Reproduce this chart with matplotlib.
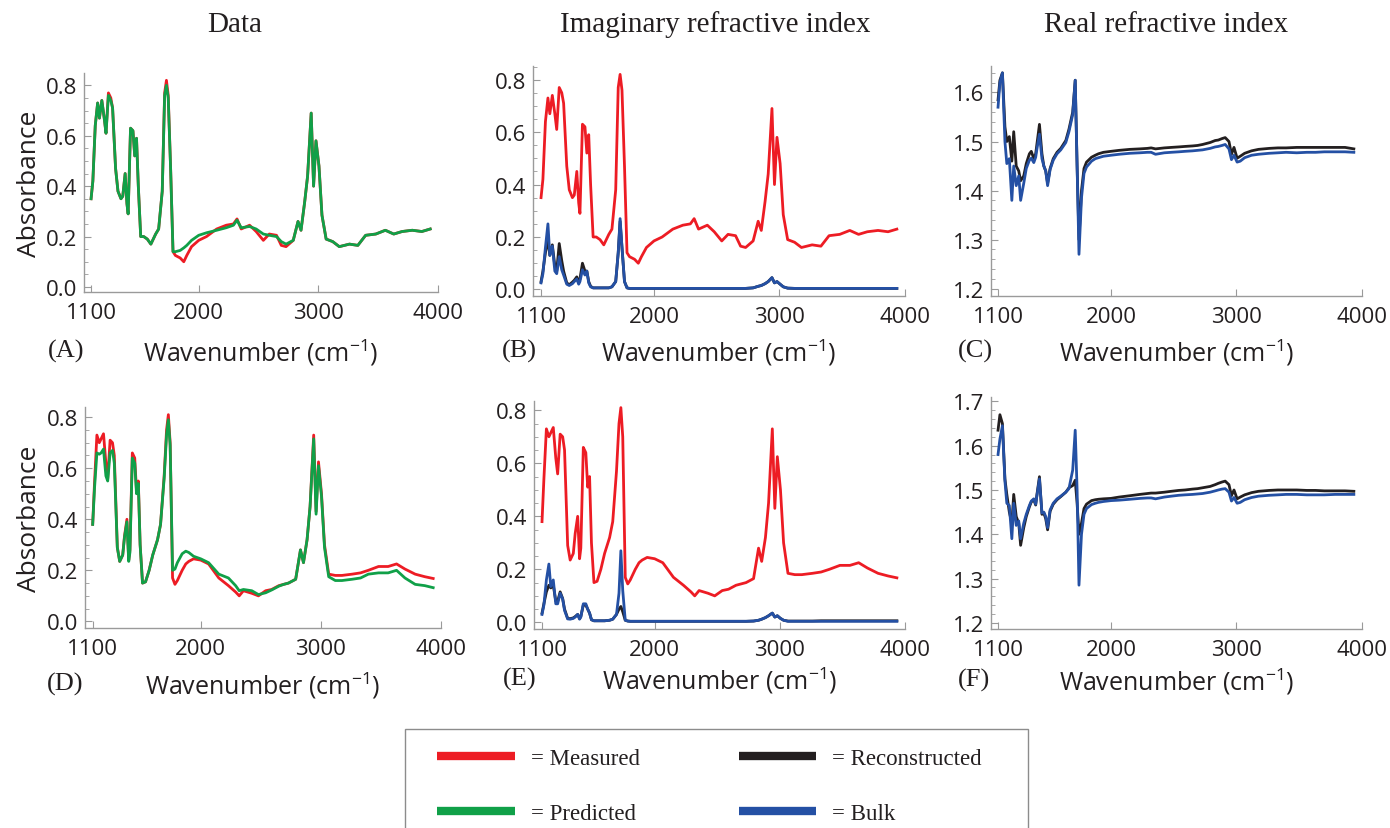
import matplotlib
matplotlib.use("Agg")
import matplotlib.pyplot as plt
from matplotlib.lines import Line2D
from matplotlib.patches import Rectangle
from matplotlib.ticker import FixedLocator, MultipleLocator, FormatStrFormatter

# shared wavenumber grid (cm^-1)
wn = [1100, 1115, 1135, 1155, 1170, 1190, 1210, 1225, 1245, 1265,
      1280, 1305, 1325, 1350, 1365, 1385, 1400, 1410, 1430, 1450,
      1465, 1480, 1495, 1515, 1540, 1570, 1600, 1640, 1665, 1695,
      1715, 1730, 1745, 1765, 1785, 1805, 1845, 1875, 1900, 1940,
      2000, 2065, 2150, 2230, 2290, 2320, 2355, 2425, 2480, 2540,
      2590, 2650, 2690, 2730, 2790, 2830, 2855, 2885, 2910, 2940,
      2960, 2980, 3005, 3030, 3065, 3120, 3175, 3260, 3330, 3395,
      3480, 3560, 3630, 3700, 3785, 3865, 3935]

# top row: absorbance
measured_top = [0.35, 0.42, 0.64, 0.73, 0.67, 0.74, 0.67, 0.61, 0.77, 0.75,
                0.71, 0.47, 0.38, 0.35, 0.36, 0.45, 0.33, 0.29, 0.63, 0.62,
                0.52, 0.59, 0.40, 0.20, 0.20, 0.19, 0.17, 0.21, 0.23, 0.38,
                0.77, 0.82, 0.76, 0.47, 0.14, 0.125, 0.115, 0.10, 0.125, 0.16,
                0.185, 0.20, 0.23, 0.245, 0.25, 0.27, 0.23, 0.245, 0.22, 0.185,
                0.21, 0.205, 0.165, 0.16, 0.185, 0.26, 0.225, 0.335, 0.44, 0.69,
                0.40, 0.58, 0.48, 0.285, 0.19, 0.18, 0.16, 0.17, 0.165, 0.205,
                0.21, 0.225, 0.21, 0.22, 0.225, 0.22, 0.23]
predicted_top = [0.35, 0.42, 0.64, 0.73, 0.67, 0.74, 0.67, 0.61, 0.76, 0.74,
                 0.71, 0.47, 0.38, 0.35, 0.36, 0.45, 0.33, 0.29, 0.63, 0.62,
                 0.52, 0.59, 0.40, 0.20, 0.20, 0.19, 0.17, 0.21, 0.23, 0.38,
                 0.76, 0.80, 0.75, 0.47, 0.14, 0.14, 0.145, 0.155, 0.165, 0.185,
                 0.205, 0.215, 0.225, 0.235, 0.245, 0.265, 0.235, 0.24, 0.23, 0.21,
                 0.205, 0.20, 0.18, 0.17, 0.185, 0.26, 0.225, 0.335, 0.44, 0.69,
                 0.40, 0.58, 0.48, 0.285, 0.19, 0.18, 0.16, 0.17, 0.165, 0.205,
                 0.21, 0.225, 0.21, 0.22, 0.225, 0.22, 0.23]
# top row: imaginary index
recon_k_top = [0.03, 0.07, 0.14, 0.19, 0.13, 0.17, 0.09, 0.07, 0.175, 0.11,
               0.07, 0.025, 0.018, 0.028, 0.035, 0.048, 0.025, 0.04, 0.10, 0.07,
               0.07, 0.03, 0.012, 0.006, 0.006, 0.006, 0.006, 0.006, 0.01, 0.03,
               0.14, 0.26, 0.16, 0.03, 0.006, 0.004, 0.004, 0.004, 0.004, 0.004,
               0.004, 0.004, 0.004, 0.004, 0.004, 0.004, 0.004, 0.004, 0.004, 0.004,
               0.004, 0.004, 0.004, 0.004, 0.006, 0.012, 0.015, 0.022, 0.03, 0.045,
               0.025, 0.03, 0.02, 0.01, 0.005, 0.004, 0.004, 0.004, 0.004, 0.004,
               0.004, 0.004, 0.004, 0.004, 0.004, 0.004, 0.004]
bulk_k_top = [0.025, 0.06, 0.16, 0.25, 0.13, 0.165, 0.07, 0.06, 0.125, 0.075,
              0.055, 0.02, 0.015, 0.022, 0.03, 0.04, 0.02, 0.03, 0.075, 0.055,
              0.07, 0.025, 0.01, 0.006, 0.006, 0.006, 0.006, 0.006, 0.01, 0.03,
              0.14, 0.27, 0.16, 0.03, 0.006, 0.004, 0.004, 0.004, 0.004, 0.004,
              0.004, 0.004, 0.004, 0.004, 0.004, 0.004, 0.004, 0.004, 0.004, 0.004,
              0.004, 0.004, 0.004, 0.004, 0.006, 0.012, 0.015, 0.022, 0.03, 0.045,
              0.025, 0.03, 0.02, 0.01, 0.005, 0.004, 0.004, 0.004, 0.004, 0.004,
              0.004, 0.004, 0.004, 0.004, 0.004, 0.004, 0.004]
# top row: real index
recon_n_top = [1.585, 1.625, 1.64, 1.53, 1.50, 1.51, 1.46, 1.52, 1.45, 1.44,
               1.42, 1.43, 1.455, 1.475, 1.48, 1.465, 1.475, 1.495, 1.535, 1.475,
               1.45, 1.44, 1.415, 1.445, 1.465, 1.478, 1.486, 1.502, 1.525, 1.56,
               1.625, 1.45, 1.30, 1.40, 1.445, 1.458, 1.468, 1.472, 1.475, 1.478,
               1.48, 1.482, 1.484, 1.485, 1.486, 1.487, 1.485, 1.487, 1.488, 1.489,
               1.490, 1.491, 1.492, 1.494, 1.498, 1.502, 1.503, 1.506, 1.508, 1.500,
               1.474, 1.488, 1.466, 1.470, 1.476, 1.481, 1.484, 1.486, 1.487, 1.487,
               1.488, 1.488, 1.488, 1.488, 1.488, 1.488, 1.485]
bulk_n_top = [1.57, 1.62, 1.64, 1.50, 1.455, 1.465, 1.38, 1.45, 1.41, 1.43,
              1.38, 1.415, 1.445, 1.462, 1.466, 1.457, 1.468, 1.485, 1.515, 1.465,
              1.45, 1.44, 1.41, 1.443, 1.462, 1.475, 1.483, 1.498, 1.52, 1.555,
              1.625, 1.45, 1.27, 1.385, 1.435, 1.448, 1.46, 1.465, 1.467, 1.47,
              1.472, 1.474, 1.476, 1.477, 1.478, 1.478, 1.474, 1.477, 1.478, 1.479,
              1.480, 1.481, 1.482, 1.483, 1.486, 1.489, 1.490, 1.492, 1.494, 1.485,
              1.463, 1.472, 1.458, 1.460, 1.467, 1.472, 1.474, 1.476, 1.477, 1.478,
              1.477, 1.478, 1.478, 1.479, 1.479, 1.479, 1.478]

# bottom row: absorbance
measured_bot = [0.38, 0.54, 0.73, 0.70, 0.715, 0.735, 0.62, 0.56, 0.71, 0.70,
                0.65, 0.29, 0.235, 0.26, 0.335, 0.40, 0.24, 0.28, 0.66, 0.64,
                0.51, 0.55, 0.30, 0.15, 0.155, 0.20, 0.26, 0.32, 0.38, 0.57,
                0.75, 0.81, 0.70, 0.17, 0.145, 0.16, 0.20, 0.225, 0.235, 0.245,
                0.24, 0.225, 0.17, 0.14, 0.115, 0.10, 0.12, 0.11, 0.10, 0.12,
                0.125, 0.14, 0.145, 0.15, 0.165, 0.28, 0.23, 0.32, 0.45, 0.73,
                0.43, 0.625, 0.50, 0.30, 0.185, 0.18, 0.18, 0.185, 0.19, 0.20,
                0.215, 0.215, 0.225, 0.205, 0.185, 0.175, 0.168]
predicted_bot = [0.38, 0.52, 0.66, 0.655, 0.66, 0.675, 0.57, 0.55, 0.66, 0.67,
                 0.62, 0.29, 0.235, 0.26, 0.33, 0.39, 0.235, 0.27, 0.64, 0.62,
                 0.50, 0.54, 0.30, 0.15, 0.155, 0.20, 0.26, 0.32, 0.38, 0.56,
                 0.73, 0.79, 0.69, 0.20, 0.205, 0.23, 0.265, 0.275, 0.27, 0.255,
                 0.245, 0.23, 0.185, 0.17, 0.14, 0.12, 0.125, 0.12, 0.105, 0.112,
                 0.123, 0.138, 0.145, 0.15, 0.165, 0.28, 0.23, 0.32, 0.45, 0.715,
                 0.42, 0.61, 0.49, 0.29, 0.175, 0.16, 0.16, 0.165, 0.17, 0.185,
                 0.19, 0.19, 0.20, 0.17, 0.145, 0.14, 0.132]
# bottom row: imaginary index
recon_k_bot = [0.035, 0.07, 0.115, 0.14, 0.13, 0.14, 0.08, 0.08, 0.115, 0.09,
               0.05, 0.015, 0.014, 0.017, 0.022, 0.03, 0.014, 0.022, 0.065, 0.065,
               0.05, 0.035, 0.01, 0.006, 0.006, 0.006, 0.006, 0.008, 0.012, 0.03,
               0.05, 0.06, 0.04, 0.008, 0.005, 0.004, 0.004, 0.004, 0.004, 0.004,
               0.004, 0.004, 0.004, 0.004, 0.004, 0.004, 0.004, 0.004, 0.004, 0.004,
               0.004, 0.004, 0.004, 0.004, 0.005, 0.008, 0.012, 0.018, 0.025, 0.035,
               0.02, 0.025, 0.015, 0.008, 0.005, 0.005, 0.005, 0.005, 0.006, 0.006,
               0.006, 0.006, 0.006, 0.006, 0.006, 0.006, 0.006]
bulk_k_bot = [0.03, 0.065, 0.16, 0.22, 0.135, 0.16, 0.07, 0.07, 0.11, 0.088,
              0.045, 0.013, 0.012, 0.015, 0.02, 0.03, 0.012, 0.02, 0.07, 0.07,
              0.05, 0.035, 0.01, 0.006, 0.006, 0.006, 0.006, 0.008, 0.012, 0.03,
              0.11, 0.27, 0.12, 0.008, 0.005, 0.004, 0.004, 0.004, 0.004, 0.004,
              0.004, 0.004, 0.004, 0.004, 0.004, 0.004, 0.004, 0.004, 0.004, 0.004,
              0.004, 0.004, 0.004, 0.004, 0.005, 0.008, 0.012, 0.018, 0.025, 0.035,
              0.02, 0.025, 0.015, 0.008, 0.004, 0.004, 0.004, 0.004, 0.004, 0.004,
              0.004, 0.004, 0.004, 0.004, 0.004, 0.004, 0.004]
# bottom row: real index
recon_n_bot = [1.635, 1.67, 1.65, 1.525, 1.49, 1.45, 1.425, 1.49, 1.44, 1.425,
               1.375, 1.415, 1.44, 1.462, 1.473, 1.478, 1.466, 1.49, 1.53, 1.445,
               1.448, 1.435, 1.41, 1.452, 1.468, 1.478, 1.485, 1.495, 1.505, 1.51,
               1.522, 1.47, 1.40, 1.425, 1.458, 1.468, 1.476, 1.478, 1.479, 1.48,
               1.481, 1.484, 1.487, 1.49, 1.492, 1.493, 1.493, 1.495, 1.497, 1.499,
               1.500, 1.502, 1.503, 1.505, 1.508, 1.512, 1.515, 1.518, 1.52, 1.512,
               1.487, 1.500, 1.48, 1.484, 1.489, 1.494, 1.497, 1.499, 1.5, 1.5,
               1.5, 1.499, 1.499, 1.498, 1.498, 1.498, 1.497]
bulk_n_bot = [1.58, 1.615, 1.645, 1.52, 1.47, 1.465, 1.39, 1.47, 1.42, 1.43,
              1.39, 1.425, 1.445, 1.465, 1.475, 1.48, 1.468, 1.487, 1.525, 1.448,
              1.45, 1.44, 1.415, 1.455, 1.47, 1.48, 1.486, 1.495, 1.503, 1.545,
              1.635, 1.50, 1.285, 1.40, 1.445, 1.458, 1.467, 1.47, 1.472, 1.474,
              1.476, 1.477, 1.479, 1.481, 1.482, 1.482, 1.480, 1.484, 1.486, 1.488,
              1.489, 1.490, 1.491, 1.492, 1.495, 1.498, 1.500, 1.502, 1.503, 1.495,
              1.475, 1.483, 1.47, 1.472, 1.478, 1.483, 1.486, 1.488, 1.489, 1.49,
              1.49, 1.489, 1.489, 1.489, 1.49, 1.49, 1.49]

xticks = [1100, 2000, 3000, 4000]
titles = ['Data', 'Imaginary refractive index', 'Real refractive index']
legend_labels = ['= Measured', '= Predicted', '= Reconstructed', '= Bulk']

RED, GREEN, BLACK, BLUE = '#ed1c24', '#10a048', '#231f20', '#2450a4'
AXC = '#9a9a9a'
TXT = '#231f20'

plt.rcParams['font.family'] = ['Open Sans', 'DejaVu Sans']
plt.rcParams['mathtext.fontset'] = 'custom'
plt.rcParams['mathtext.rm'] = 'Open Sans'
plt.rcParams['mathtext.it'] = 'Open Sans:italic'
plt.rcParams['mathtext.bf'] = 'Open Sans:bold'

W, H = 1390, 829
fig = plt.figure(figsize=(W / 100, H / 100), dpi=100)


def px_axes(l, t, r, b):
    return fig.add_axes([l / W, 1 - b / H, (r - l) / W, (b - t) / H])


def style(ax, xlim, ylim, yticks, yminor, fmt):
    ax.set_xlim(*xlim)
    ax.set_ylim(*ylim)
    for s in ('top', 'right'):
        ax.spines[s].set_visible(False)
    for s in ('left', 'bottom'):
        ax.spines[s].set_color(AXC)
        ax.spines[s].set_linewidth(1.0)
    ax.xaxis.set_major_locator(FixedLocator(xticks))
    ax.yaxis.set_major_locator(FixedLocator(yticks))
    ax.yaxis.set_minor_locator(MultipleLocator(yminor))
    ax.yaxis.set_major_formatter(FormatStrFormatter(fmt))
    ax.tick_params(which='both', direction='in', color=AXC,
                   labelsize=16, labelcolor=TXT)
    ax.tick_params(which='major', length=5, width=0.8)
    ax.tick_params(which='minor', length=3, width=0.6)
    ax.tick_params(axis='x', pad=7)
    ax.tick_params(axis='y', pad=5)


lw = 2.0
abs_ticks = [0.0, 0.2, 0.4, 0.6, 0.8]

# (A)
axA = px_axes(84, 74, 438, 293)
axA.plot(wn, measured_top, color=RED, lw=lw)
axA.plot(wn, predicted_top, color=GREEN, lw=lw)
style(axA, (1041, 4000), (-0.02, 0.849), abs_ticks, 0.05, '%.1f')

# (B)
axB = px_axes(533, 67, 905, 297)
axB.plot(wn, measured_top, color=RED, lw=lw)
axB.plot(wn, recon_k_top, color=BLACK, lw=lw)
axB.plot(wn, bulk_k_top, color=BLUE, lw=lw)
style(axB, (1036, 4000), (-0.025, 0.852), abs_ticks, 0.05, '%.1f')

# (C)
axC = px_axes(991, 67, 1362, 297)
axC.plot(wn, recon_n_top, color=BLACK, lw=lw)
axC.plot(wn, bulk_n_top, color=BLUE, lw=lw)
style(axC, (1044, 4000), (1.185, 1.654), [1.2, 1.3, 1.4, 1.5, 1.6], 0.02, '%.1f')

# (D)
axD = px_axes(85, 408, 441, 629)
axD.plot(wn, measured_bot, color=RED, lw=lw)
axD.plot(wn, predicted_bot, color=GREEN, lw=lw)
style(axD, (1036, 4000), (-0.026, 0.84), abs_ticks, 0.05, '%.1f')

# (E)
axE = px_axes(534, 402, 905, 630)
axE.plot(wn, measured_bot, color=RED, lw=lw)
axE.plot(wn, recon_k_bot, color=BLACK, lw=lw)
axE.plot(wn, bulk_k_bot, color=BLUE, lw=lw)
style(axE, (1036, 4000), (-0.025, 0.835), abs_ticks, 0.05, '%.1f')

# (F)
axF = px_axes(991, 398, 1362, 630)
axF.plot(wn, recon_n_bot, color=BLACK, lw=lw)
axF.plot(wn, bulk_n_bot, color=BLUE, lw=lw)
style(axF, (1044, 4000), (1.186, 1.71), [1.2, 1.3, 1.4, 1.5, 1.6, 1.7], 0.02, '%.1f')

# column titles
for xc, t in zip([235, 715, 1166], titles):
    fig.text(xc / W, 1 - 25 / H, t, ha='center', va='center',
             family='Liberation Serif', fontsize=21, color=TXT)

# x labels and panel letters
xl = r'Wavenumber (cm$^{-1}$)'
for ax, letter, lx, yrow in [(axA, '(A)', 48, 351), (axB, '(B)', 502, 351),
                             (axC, '(C)', 958, 351), (axD, '(D)', 47, 684),
                             (axE, '(E)', 503, 679), (axF, '(F)', 958, 680)]:
    pos = ax.get_position()
    fig.text(pos.x0 + pos.width / 2, 1 - (yrow + 2) / H, xl, ha='center',
             va='center', fontsize=18, color=TXT)
    fig.text(lx / W, 1 - yrow / H, letter, ha='left', va='center',
             family='Liberation Serif', fontsize=19, color=TXT)

for ax in (axA, axD):
    pos = ax.get_position()
    fig.text(29 / W, pos.y0 + pos.height / 2, 'Absorbance', rotation=90,
             ha='center', va='center', fontsize=19, color=TXT)

# legend: entries laid out by matplotlib, box drawn as a plain rectangle
handles = [Line2D([], [], color=c, lw=6, solid_capstyle='butt')
           for c in (RED, GREEN, BLACK, BLUE)]
leg = fig.legend(handles, legend_labels, loc='upper left',
                 bbox_to_anchor=(437 / W, 1 - 749 / H), ncol=2,
                 frameon=False, borderaxespad=0, borderpad=0,
                 prop={'family': 'Liberation Serif', 'size': 16.5},
                 handlelength=3.4, handletextpad=0.7, columnspacing=4.3,
                 labelspacing=1.48)
for t in leg.get_texts():
    t.set_color(TXT)
fig.patches.append(Rectangle((405 / W, -0.05), 623 / W, 1 - 730 / H + 0.05,
                             transform=fig.transFigure, fill=False,
                             edgecolor='#8c8c8c', lw=1.0))

fig.savefig('out.png', dpi=100)
